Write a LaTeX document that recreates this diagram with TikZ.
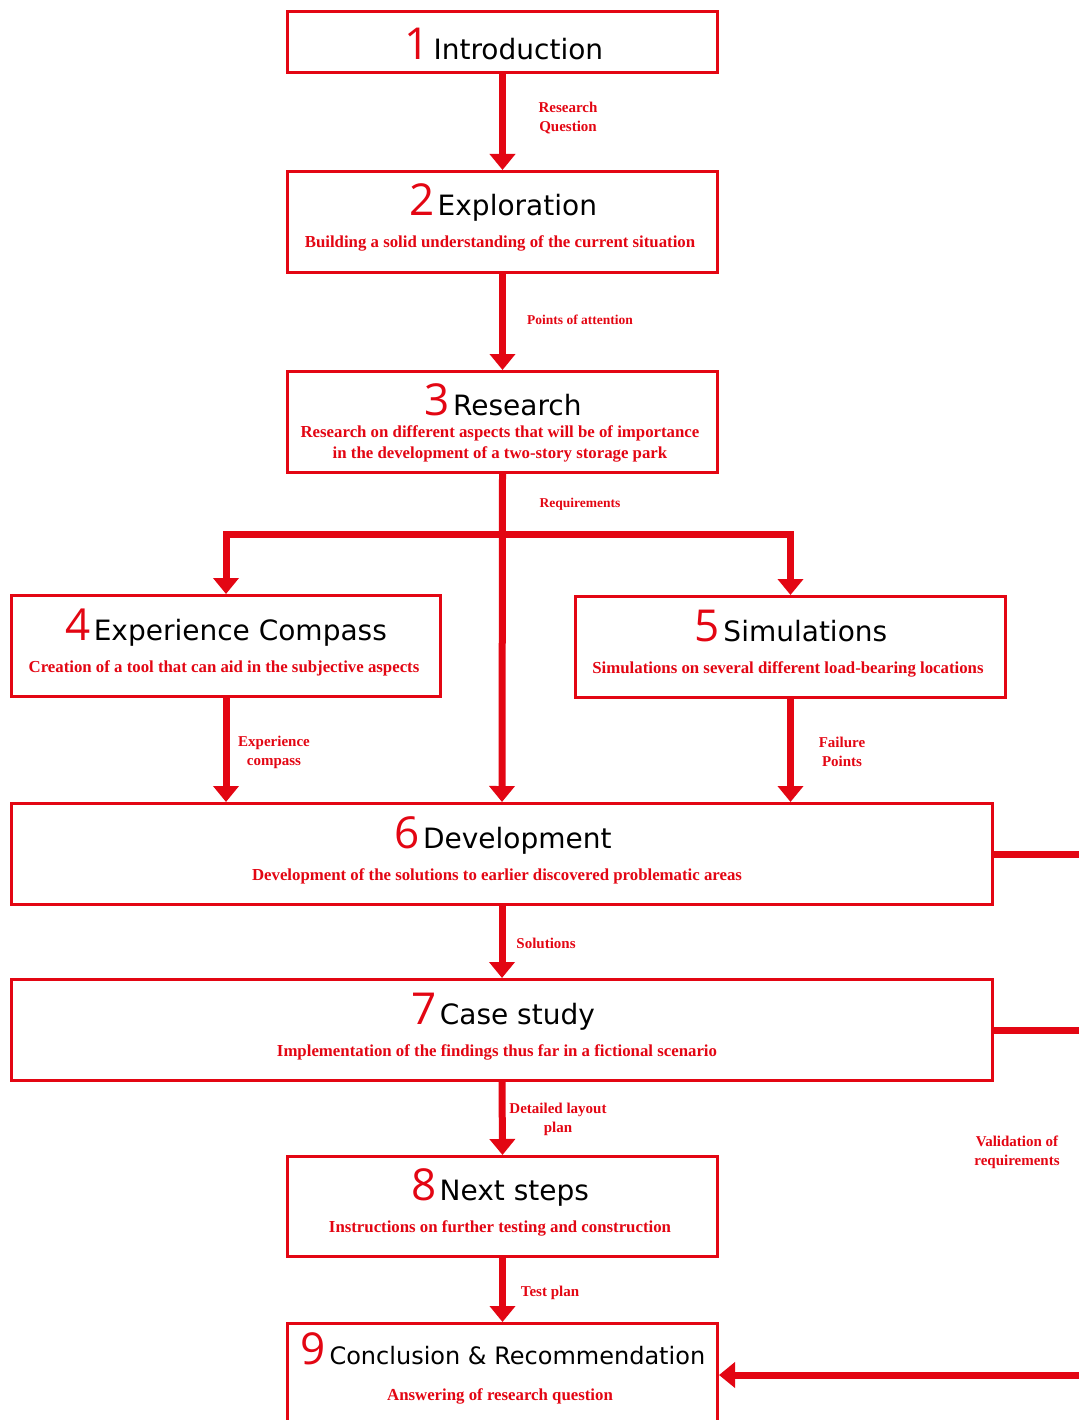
\documentclass[tikz,border=0pt]{standalone}
\usepackage{fontspec}
\setmainfont{Liberation Serif}
\newfontfamily\titlefont{DejaVu Sans}
\newfontfamily\numberfont{Open Sans}
\usetikzlibrary{arrows.meta,calc}
\definecolor{brand}{RGB}{227,6,19}

% stage number in red, stage name in black; optional size of the name
\newcommand{\stagetitle}[3][28]{{\color{brand}\fontsize{44}{46}\numberfont #2}\hspace{3.5pt}{\fontsize{#1}{#1}\titlefont #3}}

\begin{document}
\begin{tikzpicture}[x=1pt,y=-1pt,
  stage/.style={draw=brand, line width=3pt, inner sep=0pt, fill=white},
  heading/.style={anchor=base, inner sep=0pt, text=black},
  subline/.style={anchor=base, inner sep=0pt, align=center, text=brand,
    font=\fontsize{16.8}{21}\selectfont\bfseries},
  lab/.style={inner sep=0pt, align=center, text=brand,
    font=\fontsize{15}{19}\selectfont\bfseries},
  smalllab/.style={inner sep=0pt, align=center, text=brand,
    font=\fontsize{13.5}{17}\selectfont\bfseries},
  flow/.style={draw=brand, line width=7pt, line join=miter,
    -{Triangle[width=25pt,length=16pt]}},
  plain/.style={draw=brand, line width=7pt}
]
\useasboundingbox (0,0) rectangle (1078,1420);

% stage boxes
\node[stage, minimum width=430pt, minimum height=61pt]  (b1) at (502.5,42)   {};
\node[stage, minimum width=430pt, minimum height=101pt] (b2) at (502.5,222)  {};
\node[stage, minimum width=430pt, minimum height=101pt] (b3) at (502.5,422)  {};
\node[stage, minimum width=429pt, minimum height=101pt] (b4) at (226,646)    {};
\node[stage, minimum width=430pt, minimum height=101pt] (b5) at (790.5,647)  {};
\node[stage, minimum width=981pt, minimum height=101pt] (b6) at (502,854)    {};
\node[stage, minimum width=981pt, minimum height=101pt] (b7) at (502,1030)   {};
\node[stage, minimum width=430pt, minimum height=100pt] (b8) at (502.5,1206.5) {};
\node[stage, minimum width=430pt, minimum height=103pt] (b9) at (502.5,1375) {};

% box texts
\node[heading] (t1) at (504,60)   {\stagetitle{1}{Introduction}};
\node[heading] (t2) at (503,216)  {\stagetitle{2}{Exploration}};
\node[subline] (s2) at (500,247.5)  {Building a solid understanding of the current situation};
\node[heading] (t3) at (503,415)  {\stagetitle{3}{Research}};
\node[subline, anchor=center] (s3) at (500,443.5) {Research on different aspects that will be of importance\\in the development of a two-story storage park};
\node[heading] (t4) at (226,640)  {\stagetitle{4}{Experience Compass}};
\node[subline] (s4) at (224,672)  {Creation of a tool that can aid in the subjective aspects};
\node[heading] (t5) at (791,641)  {\stagetitle{5}{Simulations}};
\node[subline] (s5) at (788,673)  {Simulations on several different load-bearing locations};
\node[heading] (t6) at (503,848)  {\stagetitle{6}{Development}};
\node[subline] (s6) at (497,880)  {Development of the solutions to earlier discovered problematic areas};
\node[heading] (t7) at (503,1024) {\stagetitle{7}{Case study}};
\node[subline] (s7) at (497,1056) {Implementation of the findings thus far in a fictional scenario};
\node[heading] (t8) at (500,1200) {\stagetitle{8}{Next steps}};
\node[subline] (s8) at (500,1232) {Instructions on further testing and construction};
\node[heading] (t9) at (503,1364) {\stagetitle[24]{9}{Conclusion \& Recommendation}};
\node[subline] (s9) at (500,1400) {Answering of research question};

% connectors
\draw[flow] (b1.south) -- (b2.north);
\draw[flow] (b2.south) -- (b3.north);
\draw[flow] (b3.south) -- (b6.north);
\coordinate (split) at (502.5,534);
\draw[flow] (split) -| (b4.north);
\draw[flow] (split) -| (b5.north);
\draw[flow] (b4.south) -- (b4.south |- b6.north);
\draw[flow] (b5.south) -- (b5.south |- b6.north);
\draw[flow] (b6.south) -- (b7.north);
\draw[flow] (b7.south) -- (b8.north);
\draw[flow] (b8.south) -- (b9.north);

% validation loop on the right
\coordinate (r6) at (1090,854);
\coordinate (r7) at (1090,1030);
\coordinate (r9) at (1090,1375);
\draw[plain] (b6.east) -- (r6);
\draw[plain] (b7.east) -- (r7);
\draw[flow] (r9) -- (b9.east);

% connector labels
\node[lab] (l1) at (568,118)  {Research\\Question};
\node[smalllab] (l2) at (580,320) {Points of attention};
\node[smalllab] (l3) at (580,504) {Requirements};
\node[lab] (l4) at (274,752)  {Experience\\compass};
\node[lab] (l5) at (842,751.5)    {Failure\\Points};
\node[lab] (l6) at (546,943)    {Solutions};
\node[lab] (l7) at (558,1119) {Detailed layout\\plan};
\node[lab] (l8) at (550,1293)   {Test plan};
\node[lab] (l9) at (1017,1152) {Validation of\\requirements};
\end{tikzpicture}
\end{document}
